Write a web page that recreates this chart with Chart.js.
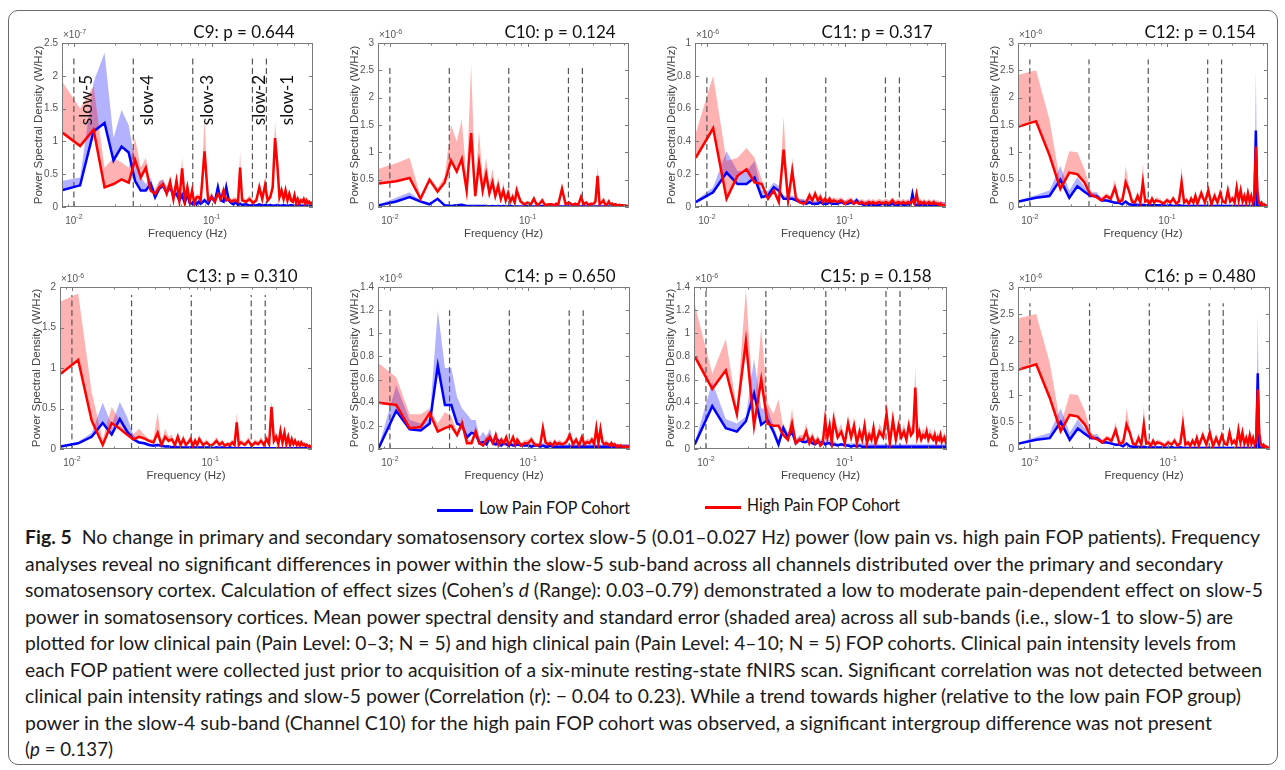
<!DOCTYPE html>
<html lang="en">
<head>
    <meta charset="UTF-8">
    <title>Fig. 5 - slow band power, low vs high pain FOP cohorts</title>
    <script src="https://cdn.jsdelivr.net/npm/chart.js"></script>
    <style>
        body {
            margin: 0;
            width: 1285px;
            height: 770px;
            overflow: hidden;
            position: relative;
            background: #fff;
            font-family: Lato, "Open Sans", sans-serif;
            color: #111;
        }
        .frame {
            position: absolute;
            left: 8px;
            top: 10px;
            width: 1268px;
            height: 753px;
            border: 1.2px solid #6a6a6a;
            border-radius: 10px;
        }
        canvas { position: absolute; }
        .lg-line { position: absolute; width: 36px; height: 3px; }
        .lg-text {
            position: absolute;
            font-size: 18px;
            line-height: 20px;
            white-space: nowrap;
            transform-origin: 0 0;
        }
        .cap {
            position: absolute;
            left: 25px;
            top: 524px;
            font-size: 18.5px;
            line-height: 26.5px;
            color: #1a1a1a;
        }
        .cap div { height: 26.5px; white-space: nowrap; }
        .cap span { display: inline-block; transform-origin: 0 0; }
    </style>
</head>
<body>
    <div class="frame"></div>

    <div class="lg-line" style="left:437px;top:508.5px;background:#0000ff"></div>
    <span class="lg-text" style="left:479px;top:496.5px">Low Pain FOP Cohort</span>
    <div class="lg-line" style="left:705px;top:505.5px;background:#ff0000"></div>
    <span class="lg-text" style="left:747px;top:494px">High Pain FOP Cohort</span>

    <div class="cap">
        <div><span><b>Fig. 5</b>&nbsp; No change in primary and secondary somatosensory cortex slow-5 (0.01–0.027 Hz) power (low pain vs. high pain FOP patients). Frequency</span></div>
        <div><span>analyses reveal no significant differences in power within the slow-5 sub-band across all channels distributed over the primary and secondary</span></div>
        <div><span>somatosensory cortex. Calculation of effect sizes (Cohen’s <i>d</i> (Range): 0.03–0.79) demonstrated a low to moderate pain-dependent effect on slow-5</span></div>
        <div><span>power in somatosensory cortices. Mean power spectral density and standard error (shaded area) across all sub-bands (i.e., slow-1 to slow-5) are</span></div>
        <div><span>plotted for low clinical pain (Pain Level: 0–3; N = 5) and high clinical pain (Pain Level: 4–10; N = 5) FOP cohorts. Clinical pain intensity levels from</span></div>
        <div><span>each FOP patient were collected just prior to acquisition of a six-minute resting-state fNIRS scan. Significant correlation was not detected between</span></div>
        <div><span>clinical pain intensity ratings and slow-5 power (Correlation (r): − 0.04 to 0.23). While a trend towards higher (relative to the low pain FOP group)</span></div>
        <div><span>power in the slow-4 sub-band (Channel C10) for the high pain FOP cohort was observed, a significant intergroup difference was not present</span></div>
        <div><span>(<i>p</i> = 0.137)</span></div>
    </div>

    <script>
        // frequency bins (Hz), shared by every panel
        const freq = [0.0083,0.0111,0.0139,0.0167,0.0194,0.0222,0.025,0.0278,0.0306,0.0333,
            0.0361,0.0389,0.0417,0.0444,0.0472,0.05,0.0528,0.0556,0.0583,0.0611,
            0.0639,0.0667,0.0694,0.0722,0.075,0.0778,0.0806,0.0833,
            0.0889,0.0944,0.1,0.1056,0.1111,0.1167,0.1222,0.1278,0.1333,0.1389,0.1444,0.15,0.1556,0.1611,0.1667,
            0.1778,0.1889,0.2,0.2111,0.2222,0.2333,0.2444,0.2556,0.2667,0.2778,
            0.2889,0.3,0.3111,0.3222,0.3333,0.3444,0.3556,0.3667,0.3778,0.3889,
            0.4,0.4111,0.4222,0.4333,0.4444,0.4556,0.4667,0.4778,0.4889,0.5,
            0.5111,0.5222,0.5333,0.5444];

        // sub-band borders and labels
        const slowBounds = [0.01, 0.027, 0.073, 0.198, 0.25];
        const slowNames = ['slow-5', 'slow-4', 'slow-3', 'slow-2', 'slow-1'];
        const slowLabelAt = [0.0124, 0.0343, 0.0935, 0.2225, 0.355];
        const xMajor = [0.01, 0.1];
        const xMinor = [0.009, 0.02, 0.03, 0.04, 0.05, 0.06, 0.07, 0.08, 0.09, 0.2, 0.3, 0.4, 0.5];

        // C9 (x1e-7 W/Hz) ; lo = low pain mean, loUp = mean + SE, hi = high pain
        const c9Lo = [0.26,0.33,1.15,1.28,0.71,0.92,0.83,0.4,0.25,0.25,
            0.35,0.15,0.28,0.32,0.22,0.3,0.18,0.2,0.1,0.18,
            0.06,0.2,0.06,0.05,0.1,0.04,0.08,0.05,
            0.1,0.05,0.15,0.08,0.3,0.1,0.08,0.3,0.1,0.06,0.04,0.08,0.03,0.05,0.03,
            0.04,0.02,0.03,0.02,0.04,0.02,0.03,0.02,0.03,0.02,
            0.02,0.03,0.02,0.02,0.03,0.02,0.02,0.02,0.03,0.02,
            0.02,0.02,0.02,0.03,0.02,0.02,0.02,0.02,0.02,0.02,
            0.02,0.02,0.02,0.02];
        const c9LoUp = [0.4,0.45,1.9,2.35,1.05,1.48,1.25,0.7,0.45,0.35,
            0.45,0.22,0.38,0.42,0.3,0.4,0.25,0.28,0.15,0.25,
            0.1,0.28,0.1,0.08,0.15,0.07,0.12,0.08,
            0.15,0.08,0.22,0.12,0.4,0.15,0.12,0.38,0.15,0.09,0.07,0.12,0.05,0.08,0.05,
            0.06,0.04,0.05,0.04,0.06,0.04,0.05,0.04,0.05,0.04,
            0.04,0.05,0.04,0.04,0.05,0.04,0.04,0.04,0.05,0.04,
            0.04,0.04,0.04,0.05,0.04,0.04,0.04,0.04,0.04,0.04,
            0.04,0.04,0.04,0.04];
        const c9Hi = [1.13,0.93,1.18,0.3,0.35,0.42,0.37,0.72,0.45,0.6,
            0.25,0.2,0.3,0.35,0.2,0.38,0.12,0.4,0.1,0.59,
            0.1,0.3,0.08,0.25,0.05,0.15,0.15,0.1,
            0.85,0.1,0.15,0.08,0.2,0.12,0.25,0.1,0.12,0.08,0.1,0.1,0.08,0.6,0.1,
            0.08,0.12,0.06,0.1,0.3,0.12,0.33,0.1,0.15,0.3,
            1.05,0.65,0.15,0.25,0.12,0.25,0.1,0.2,0.1,0.08,
            0.18,0.06,0.12,0.05,0.1,0.08,0.12,0.05,0.1,0.06,
            0.08,0.05,0.06,0.08];
        const c9HiUp = [1.9,1.5,1.85,0.6,0.75,0.68,0.6,1.05,0.6,0.75,
            0.35,0.28,0.4,0.42,0.3,0.48,0.2,0.5,0.18,0.75,
            0.15,0.4,0.12,0.32,0.1,0.2,0.2,0.15,
            1.35,0.15,0.22,0.12,0.3,0.18,0.35,0.15,0.18,0.12,0.15,0.15,0.12,0.85,0.15,
            0.12,0.18,0.1,0.15,0.4,0.18,0.45,0.15,0.2,0.4,
            1.3,0.85,0.2,0.35,0.18,0.35,0.15,0.28,0.15,0.12,
            0.25,0.1,0.18,0.08,0.15,0.12,0.18,0.08,0.15,0.1,
            0.12,0.08,0.1,0.12];

        // C10 (x1e-6 W/Hz)
        const c10Lo = [0.03,0.1,0.18,0.1,0.05,0.15,0.03,0.02,0.03,0.04,
            0.02,0.02,0.02,0.02,0.02,0.02,0.01,0.02,0.01,0.02,
            0.01,0.02,0.01,0.01,0.02,0.01,0.01,0.01,
            0.01,0.01,0.02,0.01,0.01,0.01,0.01,0.02,0.01,0.01,0.01,0.01,0.01,0.01,0.01,
            0.01,0.01,0.01,0.01,0.01,0.01,0.01,0.01,0.01,0.01,
            0.01,0.01,0.01,0.01,0.01,0.01,0.01,0.01,0.01,0.01,
            0.01,0.01,0.01,0.01,0.01,0.01,0.01,0.01,0.01,0.01,
            0.01,0.01,0.01,0.01];
        const c10LoUp = [0.05,0.17,0.27,0.12,0.06,0.17,0.04,0.03,0.04,0.05,
            0.03,0.03,0.03,0.03,0.03,0.03,0.03,0.03,0.03,0.03,
            0.03,0.03,0.03,0.03,0.03,0.03,0.03,0.03,
            0.02,0.02,0.02,0.02,0.02,0.02,0.02,0.02,0.02,0.02,0.02,0.02,0.02,0.02,0.02,
            0.02,0.02,0.02,0.02,0.02,0.02,0.02,0.02,0.02,0.02,
            0.02,0.02,0.02,0.02,0.02,0.02,0.02,0.02,0.02,0.02,
            0.02,0.02,0.02,0.02,0.02,0.02,0.02,0.02,0.02,0.02,
            0.02,0.02,0.02,0.02];
        const c10Hi = [0.43,0.47,0.53,0.15,0.5,0.28,0.45,0.85,0.65,0.88,
            0.3,1.35,0.2,0.8,0.3,0.6,0.25,0.45,0.2,0.38,
            0.15,0.3,0.12,0.25,0.1,0.18,0.08,0.3,
            0.1,0.05,0.08,0.05,0.15,0.04,0.06,0.12,0.04,0.04,0.05,0.05,0.03,0.06,0.04,
            0.33,0.05,0.08,0.04,0.06,0.04,0.18,0.05,0.08,0.04,
            0.06,0.05,0.1,0.57,0.05,0.08,0.12,0.04,0.05,0.1,
            0.04,0.06,0.03,0.05,0.04,0.03,0.04,0.03,0.03,0.02,
            0.03,0.02,0.02,0.02];
        const c10HiUp = [0.7,0.8,0.9,0.2,0.55,0.35,0.55,1.5,1.2,1.6,
            0.5,2.6,0.4,1.4,0.5,0.9,0.4,0.7,0.3,0.55,
            0.25,0.45,0.2,0.38,0.15,0.28,0.12,0.42,
            0.15,0.08,0.12,0.08,0.22,0.06,0.09,0.18,0.06,0.06,0.08,0.08,0.05,0.09,0.06,
            0.45,0.08,0.12,0.06,0.09,0.06,0.26,0.08,0.12,0.06,
            0.09,0.08,0.15,0.75,0.08,0.12,0.18,0.06,0.08,0.15,
            0.06,0.09,0.05,0.08,0.06,0.05,0.06,0.05,0.05,0.04,
            0.05,0.04,0.04,0.04];

        // C11 (x1e-6 W/Hz)
        const c11Lo = [0.03,0.09,0.21,0.14,0.14,0.18,0.06,0.07,0.12,0.1,
            0.05,0.05,0.05,0.04,0.03,0.03,0.02,0.03,0.02,0.02,
            0.02,0.03,0.02,0.02,0.02,0.03,0.02,0.02,
            0.02,0.03,0.02,0.02,0.03,0.02,0.04,0.02,0.02,0.01,0.02,0.01,0.02,0.01,0.01,
            0.01,0.02,0.01,0.01,0.02,0.01,0.01,0.02,0.01,0.01,
            0.02,0.01,0.08,0.02,0.01,0.01,0.01,0.02,0.01,0.01,
            0.02,0.01,0.01,0.01,0.02,0.01,0.01,0.01,0.01,0.01,
            0.01,0.01,0.01,0.01];
        const c11LoUp = [0.04,0.12,0.34,0.22,0.22,0.28,0.1,0.1,0.15,0.13,
            0.07,0.07,0.07,0.06,0.05,0.05,0.04,0.05,0.04,0.04,
            0.04,0.05,0.04,0.04,0.04,0.05,0.04,0.04,
            0.04,0.05,0.04,0.04,0.05,0.04,0.06,0.04,0.04,0.03,0.04,0.03,0.04,0.03,0.03,
            0.03,0.04,0.03,0.03,0.04,0.03,0.03,0.04,0.03,0.03,
            0.04,0.03,0.1,0.04,0.03,0.03,0.03,0.04,0.03,0.03,
            0.04,0.03,0.03,0.03,0.04,0.03,0.03,0.03,0.03,0.03,
            0.03,0.03,0.03,0.03];
        const c11Hi = [0.3,0.48,0.05,0.19,0.23,0.15,0.14,0.05,0.1,0.03,
            0.35,0.04,0.22,0.05,0.03,0.02,0.03,0.07,0.04,0.08,
            0.04,0.06,0.03,0.05,0.03,0.05,0.03,0.04,
            0.03,0.04,0.02,0.03,0.04,0.02,0.03,0.02,0.03,0.02,0.02,0.03,0.02,0.03,0.02,
            0.03,0.02,0.03,0.02,0.04,0.02,0.03,0.02,0.03,0.02,
            0.03,0.02,0.04,0.02,0.08,0.02,0.03,0.02,0.03,0.02,
            0.02,0.03,0.02,0.02,0.03,0.02,0.02,0.02,0.01,0.02,
            0.01,0.01,0.01,0.01];
        const c11HiUp = [0.45,0.8,0.28,0.3,0.36,0.3,0.17,0.07,0.12,0.05,
            0.55,0.06,0.3,0.07,0.05,0.04,0.05,0.1,0.06,0.11,
            0.06,0.09,0.05,0.07,0.05,0.07,0.05,0.06,
            0.05,0.06,0.04,0.05,0.06,0.04,0.05,0.04,0.05,0.04,0.04,0.05,0.04,0.05,0.04,
            0.05,0.04,0.05,0.04,0.06,0.04,0.05,0.04,0.05,0.04,
            0.05,0.04,0.06,0.04,0.1,0.04,0.05,0.04,0.05,0.04,
            0.04,0.05,0.04,0.04,0.05,0.04,0.04,0.04,0.03,0.04,
            0.03,0.03,0.03,0.03];

        // C12 (x1e-6 W/Hz); C16 shows the same traces
        const c12Lo = [0.1,0.17,0.2,0.5,0.17,0.38,0.28,0.2,0.2,0.12,
            0.12,0.1,0.08,0.08,0.05,0.1,0.05,0.04,0.04,0.04,
            0.03,0.04,0.03,0.03,0.03,0.03,0.03,0.03,
            0.03,0.03,0.02,0.03,0.02,0.02,0.03,0.02,0.02,0.02,0.02,0.02,0.02,0.02,0.02,
            0.02,0.02,0.02,0.02,0.02,0.02,0.02,0.02,0.02,0.02,
            0.02,0.02,0.02,0.02,0.02,0.02,0.02,0.02,0.02,0.02,
            0.02,0.02,0.02,0.02,1.4,0.02,0.02,0.02,0.02,0.02,
            0.02,0.02,0.02,0.02];
        const c12LoUp = [0.12,0.22,0.3,0.75,0.3,0.55,0.38,0.25,0.28,0.16,
            0.15,0.13,0.1,0.1,0.07,0.13,0.07,0.06,0.06,0.06,
            0.05,0.06,0.05,0.05,0.05,0.05,0.05,0.05,
            0.05,0.05,0.04,0.05,0.04,0.04,0.05,0.04,0.04,0.04,0.04,0.04,0.04,0.04,0.04,
            0.04,0.04,0.04,0.04,0.04,0.04,0.04,0.04,0.04,0.04,
            0.04,0.04,0.04,0.04,0.04,0.04,0.04,0.04,0.04,0.04,
            0.04,0.04,0.04,0.04,2.5,0.04,0.04,0.04,0.04,0.04,
            0.04,0.04,0.04,0.04];
        const c12Hi = [1.47,1.57,0.95,0.33,0.63,0.6,0.45,0.22,0.18,0.12,
            0.2,0.15,0.35,0.1,0.12,0.45,0.3,0.1,0.08,0.2,
            0.08,0.45,0.1,0.12,0.06,0.15,0.08,0.12,
            0.1,0.06,0.12,0.08,0.15,0.06,0.1,0.45,0.08,0.12,0.06,0.15,0.08,0.2,0.06,
            0.25,0.08,0.3,0.05,0.2,0.08,0.25,0.1,0.08,0.3,
            0.1,0.15,0.08,0.35,0.12,0.3,0.1,0.2,0.08,0.25,
            0.1,0.2,0.08,0.15,1.1,0.3,0.1,0.05,0.08,0.03,
            0.05,0.03,0.02,0.02];
        const c12HiUp = [2.42,2.5,1.6,0.45,1.02,1.0,0.7,0.3,0.22,0.18,
            0.25,0.2,0.5,0.15,0.18,0.75,0.4,0.15,0.12,0.3,
            0.12,0.8,0.15,0.18,0.1,0.22,0.12,0.18,
            0.15,0.1,0.18,0.12,0.22,0.1,0.15,0.75,0.12,0.18,0.1,0.22,0.12,0.3,0.1,
            0.35,0.12,0.42,0.08,0.3,0.12,0.35,0.15,0.12,0.42,
            0.15,0.22,0.12,0.5,0.18,0.42,0.15,0.3,0.12,0.35,
            0.15,0.3,0.12,0.22,1.5,0.42,0.15,0.08,0.12,0.05,
            0.08,0.05,0.04,0.04];

        // C13 (x1e-6 W/Hz)
        const c13Lo = [0.03,0.07,0.15,0.32,0.18,0.37,0.22,0.12,0.08,0.07,
            0.05,0.04,0.05,0.04,0.03,0.03,0.02,0.03,0.02,0.02,
            0.02,0.02,0.02,0.02,0.02,0.02,0.02,0.02,
            0.02,0.02,0.02,0.01,0.02,0.01,0.02,0.01,0.01,0.02,0.01,0.01,0.01,0.01,0.01,
            0.01,0.01,0.01,0.01,0.01,0.01,0.01,0.01,0.01,0.01,
            0.01,0.01,0.01,0.01,0.01,0.01,0.01,0.01,0.01,0.01,
            0.01,0.01,0.01,0.01,0.01,0.01,0.01,0.01,0.01,0.01,
            0.01,0.01,0.01,0.01];
        const c13LoUp = [0.04,0.09,0.2,0.57,0.3,0.58,0.4,0.18,0.1,0.09,
            0.07,0.06,0.07,0.06,0.05,0.05,0.04,0.05,0.04,0.04,
            0.03,0.03,0.03,0.03,0.03,0.03,0.03,0.03,
            0.03,0.03,0.03,0.03,0.03,0.03,0.03,0.03,0.03,0.03,0.03,0.03,0.03,0.03,0.03,
            0.02,0.02,0.02,0.02,0.02,0.02,0.02,0.02,0.02,0.02,
            0.02,0.02,0.02,0.02,0.02,0.02,0.02,0.02,0.02,0.02,
            0.02,0.02,0.02,0.02,0.02,0.02,0.02,0.02,0.02,0.02,
            0.02,0.02,0.02,0.02];
        const c13Hi = [0.93,1.1,0.35,0.05,0.32,0.25,0.18,0.12,0.15,0.13,
            0.1,0.08,0.2,0.05,0.15,0.1,0.12,0.05,0.15,0.05,
            0.12,0.05,0.08,0.12,0.04,0.1,0.05,0.12,
            0.05,0.08,0.04,0.06,0.1,0.05,0.08,0.04,0.06,0.05,0.08,0.05,0.33,0.05,0.08,
            0.05,0.1,0.04,0.08,0.06,0.1,0.05,0.12,0.06,0.52,
            0.1,0.15,0.06,0.22,0.08,0.2,0.06,0.15,0.05,0.12,
            0.06,0.1,0.05,0.08,0.04,0.08,0.05,0.06,0.04,0.05,
            0.03,0.04,0.03,0.03];
        const c13HiUp = [1.82,1.92,0.7,0.12,0.52,0.35,0.22,0.18,0.25,0.18,
            0.12,0.12,0.45,0.08,0.25,0.15,0.18,0.08,0.22,0.08,
            0.18,0.08,0.12,0.18,0.06,0.15,0.08,0.18,
            0.08,0.12,0.06,0.09,0.15,0.08,0.12,0.06,0.09,0.08,0.12,0.08,0.45,0.08,0.12,
            0.08,0.15,0.06,0.12,0.09,0.15,0.08,0.18,0.09,0.6,
            0.15,0.22,0.09,0.3,0.12,0.28,0.09,0.22,0.08,0.18,
            0.09,0.15,0.08,0.12,0.06,0.12,0.08,0.09,0.06,0.08,
            0.05,0.06,0.05,0.05];

        // C14 (x1e-6 W/Hz)
        const c14Lo = [0.01,0.33,0.17,0.16,0.22,0.72,0.38,0.38,0.22,0.2,
            0.1,0.14,0.13,0.05,0.06,0.04,0.1,0.05,0.04,0.07,
            0.03,0.05,0.04,0.03,0.04,0.03,0.03,0.04,
            0.03,0.03,0.03,0.02,0.03,0.03,0.02,0.03,0.02,0.02,0.03,0.02,0.02,0.02,0.02,
            0.02,0.02,0.02,0.02,0.02,0.02,0.02,0.02,0.02,0.02,
            0.02,0.02,0.02,0.02,0.02,0.02,0.02,0.02,0.02,0.02,
            0.02,0.02,0.02,0.02,0.02,0.02,0.02,0.02,0.02,0.02,
            0.02,0.02,0.02,0.02];
        const c14LoUp = [0.02,0.55,0.25,0.22,0.27,1.2,0.7,0.7,0.45,0.35,
            0.3,0.25,0.25,0.1,0.15,0.1,0.18,0.08,0.07,0.1,
            0.05,0.07,0.06,0.05,0.06,0.05,0.05,0.06,
            0.05,0.05,0.05,0.05,0.05,0.05,0.05,0.05,0.05,0.05,0.05,0.05,0.05,0.05,0.05,
            0.04,0.04,0.04,0.04,0.04,0.04,0.04,0.04,0.04,0.04,
            0.04,0.04,0.04,0.04,0.04,0.04,0.04,0.04,0.04,0.04,
            0.04,0.04,0.04,0.04,0.04,0.04,0.04,0.04,0.04,0.04,
            0.04,0.04,0.04,0.04];
        const c14Hi = [0.4,0.38,0.18,0.19,0.31,0.15,0.18,0.2,0.12,0.22,
            0.05,0.05,0.15,0.05,0.03,0.08,0.1,0.05,0.12,0.03,
            0.08,0.05,0.1,0.04,0.06,0.1,0.04,0.08,
            0.03,0.05,0.05,0.08,0.04,0.03,0.04,0.18,0.06,0.04,0.05,0.03,0.06,0.04,0.05,
            0.04,0.06,0.12,0.04,0.08,0.03,0.1,0.04,0.06,0.05,
            0.08,0.04,0.18,0.05,0.17,0.06,0.04,0.05,0.04,0.03,
            0.05,0.03,0.04,0.02,0.03,0.02,0.03,0.02,0.02,0.02,
            0.02,0.02,0.02,0.02];
        const c14HiUp = [0.74,0.62,0.3,0.3,0.35,0.22,0.32,0.28,0.15,0.28,
            0.08,0.08,0.2,0.08,0.05,0.12,0.14,0.08,0.16,0.05,
            0.11,0.08,0.14,0.06,0.09,0.14,0.06,0.11,
            0.05,0.08,0.08,0.11,0.06,0.05,0.06,0.25,0.09,0.06,0.08,0.05,0.09,0.06,0.08,
            0.06,0.09,0.17,0.06,0.11,0.05,0.14,0.06,0.09,0.08,
            0.11,0.06,0.24,0.08,0.23,0.09,0.06,0.08,0.06,0.05,
            0.08,0.05,0.06,0.04,0.05,0.04,0.05,0.04,0.04,0.04,
            0.04,0.04,0.04,0.04];

        // C15 (x1e-6 W/Hz)
        const c15Lo = [0.04,0.37,0.18,0.15,0.24,0.48,0.21,0.25,0.15,0.04,
            0.18,0.1,0.15,0.05,0.08,0.06,0.06,0.08,0.05,0.04,
            0.06,0.05,0.06,0.04,0.05,0.05,0.03,0.04,
            0.03,0.04,0.03,0.03,0.02,0.03,0.02,0.03,0.02,0.02,0.02,0.02,0.02,0.02,0.02,
            0.02,0.02,0.02,0.02,0.02,0.02,0.02,0.02,0.02,0.02,
            0.02,0.02,0.02,0.02,0.02,0.02,0.02,0.02,0.02,0.02,
            0.02,0.02,0.02,0.02,0.02,0.02,0.02,0.02,0.02,0.02,
            0.02,0.02,0.02,0.02];
        const c15LoUp = [0.05,0.58,0.26,0.22,0.28,0.78,0.35,0.35,0.2,0.08,
            0.22,0.14,0.2,0.08,0.11,0.09,0.09,0.11,0.08,0.07,
            0.09,0.08,0.09,0.07,0.08,0.08,0.06,0.07,
            0.05,0.05,0.05,0.05,0.05,0.05,0.05,0.05,0.05,0.05,0.05,0.05,0.05,0.05,0.05,
            0.04,0.04,0.04,0.04,0.04,0.04,0.04,0.04,0.04,0.04,
            0.04,0.04,0.04,0.04,0.04,0.04,0.04,0.04,0.04,0.04,
            0.04,0.04,0.04,0.04,0.04,0.04,0.04,0.04,0.04,0.04,
            0.04,0.04,0.04,0.04];
        const c15Hi = [0.8,0.52,0.68,0.3,0.93,0.2,0.6,0.22,0.2,0.2,
            0.12,0.08,0.22,0.05,0.08,0.08,0.15,0.05,0.1,0.05,
            0.08,0.03,0.05,0.25,0.1,0.2,0.05,0.25,
            0.1,0.15,0.05,0.22,0.1,0.2,0.05,0.15,0.08,0.2,0.05,0.12,0.08,0.18,0.05,
            0.15,0.1,0.3,0.05,0.25,0.08,0.2,0.1,0.15,0.08,
            0.2,0.12,0.15,0.53,0.1,0.15,0.08,0.12,0.1,0.15,
            0.08,0.12,0.1,0.08,0.12,0.06,0.1,0.08,0.12,0.06,
            0.08,0.1,0.06,0.08];
        const c15HiUp = [1.25,0.65,0.95,0.35,1.38,0.3,1.05,0.4,0.3,0.43,
            0.18,0.12,0.35,0.08,0.12,0.12,0.22,0.08,0.15,0.08,
            0.12,0.05,0.08,0.35,0.15,0.28,0.08,0.35,
            0.15,0.22,0.08,0.3,0.15,0.28,0.08,0.22,0.12,0.28,0.08,0.18,0.12,0.25,0.08,
            0.22,0.15,0.42,0.08,0.35,0.12,0.28,0.15,0.22,0.12,
            0.28,0.18,0.22,0.7,0.15,0.22,0.12,0.18,0.15,0.22,
            0.12,0.18,0.15,0.12,0.18,0.09,0.15,0.12,0.18,0.09,
            0.12,0.15,0.09,0.12];

        // panel setup: box = plot area [left, top, right, bottom] in page pixels
        const panels = [
            { title: 'C9: p = 0.644',  exp: '-7', ymax: 2.5, step: 0.5, dashTop: 2.27, box: [62, 43, 313, 207],   lo: c9Lo,  loUp: c9LoUp,  hi: c9Hi,  hiUp: c9HiUp, slow: true },
            { title: 'C10: p = 0.124', exp: '-6', ymax: 3,   step: 0.5, dashTop: 2.6,  box: [378, 43, 629, 207],  lo: c10Lo, loUp: c10LoUp, hi: c10Hi, hiUp: c10HiUp },
            { title: 'C11: p = 0.317', exp: '-6', ymax: 1,   step: 0.2, dashTop: 0.8,  box: [695, 43, 946, 207],  lo: c11Lo, loUp: c11LoUp, hi: c11Hi, hiUp: c11HiUp },
            { title: 'C12: p = 0.154', exp: '-6', ymax: 3,   step: 0.5, dashTop: 2.7,  box: [1018, 43, 1268, 207], lo: c12Lo, loUp: c12LoUp, hi: c12Hi, hiUp: c12HiUp },
            { title: 'C13: p = 0.310', exp: '-6', ymax: 2,   step: 0.5, dashTop: 1.9,  box: [60, 287, 312, 449],  lo: c13Lo, loUp: c13LoUp, hi: c13Hi, hiUp: c13HiUp },
            { title: 'C14: p = 0.650', exp: '-6', ymax: 1.4, step: 0.2, dashTop: 1.2,  box: [378, 287, 630, 449], lo: c14Lo, loUp: c14LoUp, hi: c14Hi, hiUp: c14HiUp },
            { title: 'C15: p = 0.158', exp: '-6', ymax: 1.4, step: 0.2, dashTop: 1.4,  box: [694, 287, 947, 449], lo: c15Lo, loUp: c15LoUp, hi: c15Hi, hiUp: c15HiUp },
            { title: 'C16: p = 0.480', exp: '-6', ymax: 3,   step: 0.5, dashTop: 2.7,  box: [1018, 287, 1270, 449], lo: c12Lo, loUp: c12LoUp, hi: c12Hi, hiUp: c12HiUp }
        ];

        const tickFont = '"Liberation Sans", Arial, sans-serif';

        // MATLAB-style box, inward ticks and all the panel text
        function makeDecor(p) {
            return {
                id: 'decor',
                afterDraw(chart) {
                    const { ctx, chartArea: a, scales: { x, y } } = chart;
                    ctx.save();
                    ctx.strokeStyle = '#7a7a7a';
                    ctx.lineWidth = 1;
                    ctx.strokeRect(a.left + 0.5, a.top + 0.5, a.right - a.left - 1, a.bottom - a.top - 1);
                    ctx.beginPath();
                    y.ticks.forEach(t => {
                        const py = Math.round(y.getPixelForValue(t.value)) + 0.5;
                        ctx.moveTo(a.left, py); ctx.lineTo(a.left + 4, py);
                        ctx.moveTo(a.right, py); ctx.lineTo(a.right - 4, py);
                    });
                    xMajor.concat(xMinor).forEach(v => {
                        const len = xMajor.includes(v) ? 4 : 2.5;
                        const px = Math.round(x.getPixelForValue(v)) + 0.5;
                        ctx.moveTo(px, a.bottom); ctx.lineTo(px, a.bottom - len);
                        ctx.moveTo(px, a.top); ctx.lineTo(px, a.top + len);
                    });
                    ctx.stroke();

                    // x tick labels 10^-2, 10^-1
                    ctx.fillStyle = '#555';
                    ctx.textAlign = 'left';
                    ctx.textBaseline = 'alphabetic';
                    xMajor.forEach(v => {
                        const sup = String(Math.round(Math.log10(v)));
                        ctx.font = '10px ' + tickFont;
                        const w1 = ctx.measureText('10').width;
                        ctx.font = '7px ' + tickFont;
                        const w2 = ctx.measureText(sup).width;
                        const x0 = x.getPixelForValue(v) - (w1 + w2) / 2;
                        ctx.font = '10px ' + tickFont;
                        ctx.fillText('10', x0, a.bottom + 17);
                        ctx.font = '7px ' + tickFont;
                        ctx.fillText(sup, x0 + w1, a.bottom + 12);
                    });

                    // exponent above the y axis
                    ctx.font = '10px ' + tickFont;
                    ctx.fillText('\u00d710', a.left + 1, a.top - 5);
                    const wx = ctx.measureText('\u00d710').width;
                    ctx.font = '7px ' + tickFont;
                    ctx.fillText(p.exp, a.left + 1 + wx, a.top - 9);

                    // axis titles
                    ctx.fillStyle = '#444';
                    ctx.font = '11.5px ' + tickFont;
                    ctx.textAlign = 'center';
                    ctx.fillText('Frequency (Hz)', (a.left + a.right) / 2, a.bottom + 30);
                    ctx.save();
                    ctx.translate(a.left - 23, (a.top + a.bottom) / 2);
                    ctx.rotate(-Math.PI / 2);
                    ctx.textBaseline = 'middle';
                    ctx.fillText('Power Spectral Density (W/Hz)', 0, 0);
                    ctx.restore();

                    // panel title
                    ctx.fillStyle = '#111';
                    ctx.font = '17px Lato, sans-serif';
                    ctx.fillText(p.title, a.left + 182, a.top - 5.5);

                    // sub-band names (first panel only)
                    if (p.slow) {
                        slowNames.forEach((name, i) => {
                            ctx.save();
                            ctx.translate(x.getPixelForValue(slowLabelAt[i]), a.top + 57);
                            ctx.rotate(-Math.PI / 2);
                            ctx.textBaseline = 'middle';
                            ctx.fillText(name, 0, 0);
                            ctx.restore();
                        });
                    }
                    ctx.restore();
                }
            };
        }

        const pts = arr => freq.map((f, i) => ({ x: f, y: arr[i] }));

        panels.forEach(p => {
            const [L, T, R, B] = p.box;
            const padL = 50, padT = 45, padR = 12, padB = 40;
            const cv = document.createElement('canvas');
            cv.width = R - L + padL + padR;
            cv.height = B - T + padT + padB;
            cv.style.left = (L - padL) + 'px';
            cv.style.top = (T - padT) + 'px';
            cv.style.width = cv.width + 'px';
            cv.style.height = cv.height + 'px';
            document.body.appendChild(cv);

            const datasets = [
                { data: pts(p.lo), borderColor: '#0000ff', borderWidth: 2.5, order: 1 },
                { data: pts(p.loUp), borderColor: 'rgba(0,0,0,0)', borderWidth: 0, backgroundColor: 'rgba(0,0,255,0.3)', fill: 0, order: 4 },
                { data: pts(p.hi), borderColor: '#ff0000', borderWidth: 2.5, order: 0 },
                { data: pts(p.hiUp), borderColor: 'rgba(0,0,0,0)', borderWidth: 0, backgroundColor: 'rgba(255,0,0,0.3)', fill: 2, order: 3 }
            ];
            slowBounds.forEach(b => datasets.push({
                data: [{ x: b, y: 0 }, { x: b, y: p.dashTop }],
                borderColor: '#555', borderWidth: 1.2, borderDash: [6, 3.5], order: 2
            }));

            new Chart(cv, {
                type: 'line',
                data: { datasets: datasets },
                options: {
                    responsive: false,
                    animation: false,
                    devicePixelRatio: 1,
                    events: [],
                    layout: { padding: { left: 0, top: padT, right: padR, bottom: 0 } },
                    elements: { point: { radius: 0, hitRadius: 0 }, line: { tension: 0, fill: false } },
                    plugins: { legend: { display: false }, tooltip: { enabled: false } },
                    scales: {
                        x: {
                            type: 'logarithmic', min: 0.0082, max: 0.545,
                            grid: { display: false, drawTicks: false }, border: { display: false },
                            ticks: { display: false },
                            afterFit: s => { s.height = padB; }
                        },
                        y: {
                            min: 0, max: p.ymax,
                            grid: { display: false, drawTicks: false }, border: { display: false },
                            ticks: {
                                stepSize: p.step, padding: 4, color: '#555',
                                font: { family: tickFont, size: 10 },
                                callback: v => String(+v.toFixed(1))
                            },
                            afterFit: s => { s.width = padL; }
                        }
                    }
                },
                plugins: [makeDecor(p)]
            });
        });

        // squeeze each caption / legend line to the width it has in the figure
        const capRight = [1260, 1223, 1263, 1233, 1236, 1262, 1241, 1212, 113];
        const legWidth = [151, 153];
        function fitText() {
            document.querySelectorAll('.cap span').forEach((s, i) => {
                if (i >= capRight.length) return;
                s.style.transform = 'none';
                const w = s.getBoundingClientRect().width;
                s.style.transform = 'scaleX(' + ((capRight[i] - 25) / w) + ')';
            });
            document.querySelectorAll('.lg-text').forEach((s, i) => {
                s.style.transform = 'none';
                const w = s.getBoundingClientRect().width;
                s.style.transform = 'scaleX(' + (legWidth[i] / w) + ')';
            });
        }
        fitText();
        document.fonts.ready.then(fitText);
    </script>
</body>
</html>
